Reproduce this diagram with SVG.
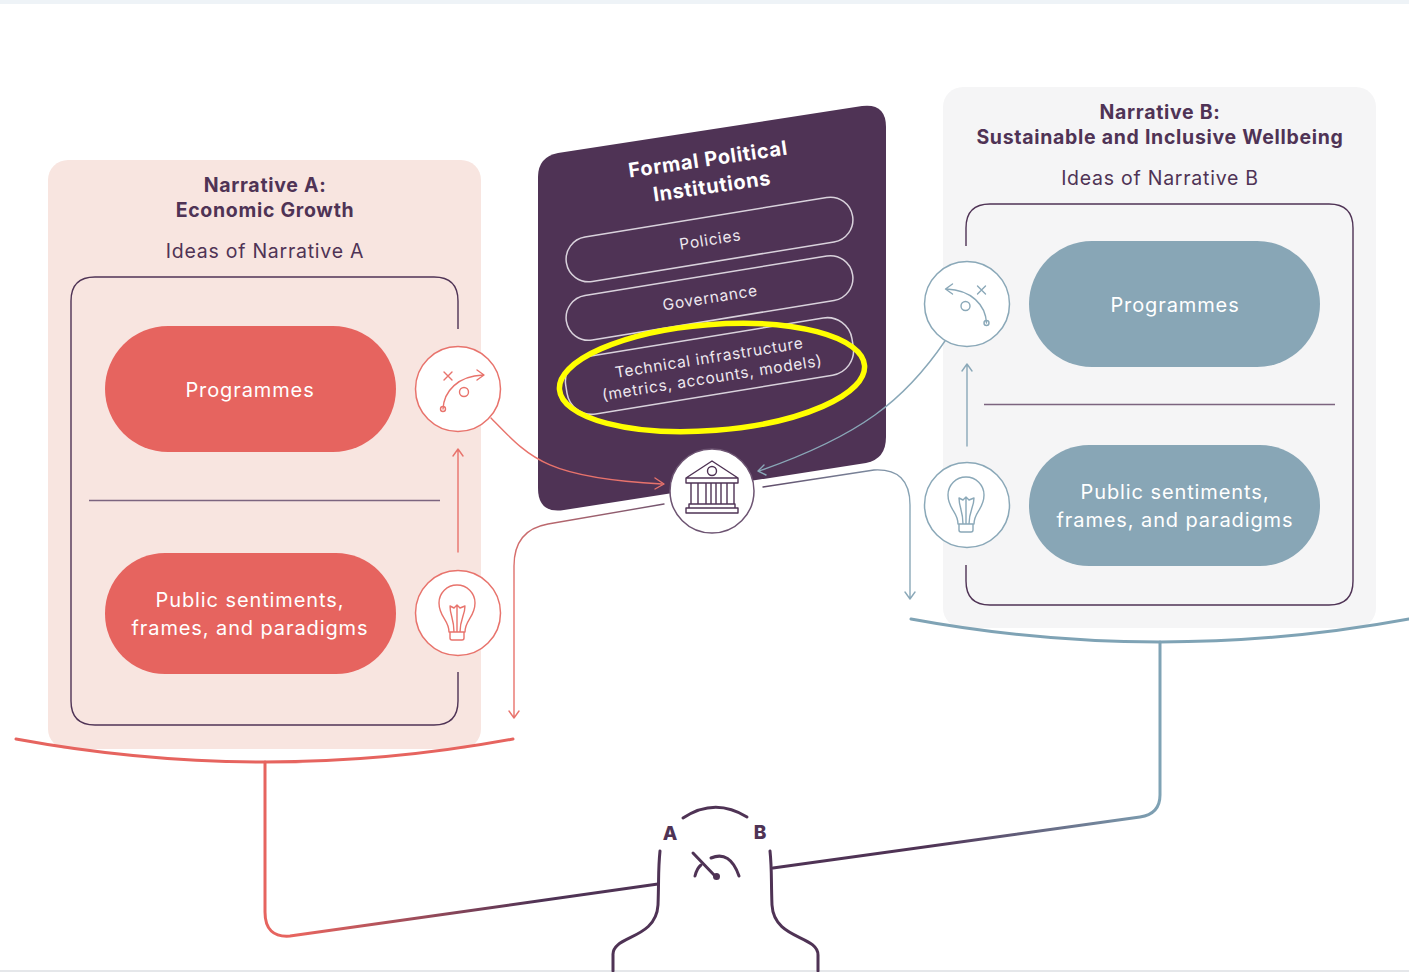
<svg xmlns="http://www.w3.org/2000/svg" width="1409" height="972" viewBox="0 0 1409 972">
<style>
text{font-family:"Inter","Liberation Sans",sans-serif;text-anchor:middle}
.h{font-size:19.5px;font-weight:700;fill:#4f3355;letter-spacing:.7px}
.s{font-size:19.5px;fill:#4f3355;letter-spacing:.75px}
.w{font-size:20px;fill:#fff;letter-spacing:.9px}
.p{font-size:15.5px;fill:#eee8ef;letter-spacing:.7px}
.t{font-size:20px;font-weight:700;fill:#fff;letter-spacing:.7px}
.f{fill:none;stroke-linecap:round;stroke-linejoin:round}
.box{fill:none;stroke:#4f3355;stroke-width:1.4}
.pill{fill:none;stroke:#d9d2dc;stroke-width:1.5}
.r{stroke:#e8736c;stroke-width:1.4}
.b{stroke:#8aa8b8;stroke-width:1.4}
.circ{fill:#fff;stroke-width:1.5}
.g{font-size:19px;font-weight:800;fill:#4f3355}
</style>
<defs>
<linearGradient id="g1" gradientUnits="userSpaceOnUse" x1="300" y1="900" x2="540" y2="900"><stop offset="0" stop-color="#e6645f"/><stop offset="1" stop-color="#4f3355"/></linearGradient>
<linearGradient id="g2" gradientUnits="userSpaceOnUse" x1="1160" y1="800" x2="930" y2="850"><stop offset="0" stop-color="#7fa3b5"/><stop offset="1" stop-color="#4f3355"/></linearGradient>
<linearGradient id="g3" gradientUnits="userSpaceOnUse" x1="514" y1="600" x2="660" y2="510"><stop offset="0" stop-color="#e8736c"/><stop offset="1" stop-color="#75566f"/></linearGradient>
<linearGradient id="g4" gradientUnits="userSpaceOnUse" x1="762" y1="485" x2="910" y2="520"><stop offset="0" stop-color="#5f4a68"/><stop offset="1" stop-color="#8aa8b8"/></linearGradient>
<g id="play-r"><path class="f" d="M-15 20C-14 2 0 -13 25 -14M19 -19L26 -14L19 -9M-14 -17L-6 -9M-6 -17L-14 -9"/><circle cx="-15" cy="20" r="2.500" fill="none"/><circle cx="6" cy="3" r="4.500" fill="none"/></g>
<g id="bulb"><path class="f" d="M-9 23C-9 11 -19 8 -19 -6A18 18 0 0 1 17 -6C17 8 7 11 7 23M-8 23H6V29Q6 31 4 31H-6Q-8 31 -8 29ZM-8 -3L-4 -1L-1 -4L2 -1L7 -3M-8 -3C-8 6 -4 10 -4 23M7 -3C7 6 2 10 2 23M-1 -4V23"/></g>
</defs>
<rect width="1409" height="972" fill="#fff"/>
<rect width="1409" height="4" fill="#eef3f7"/>
<rect y="970" width="1409" height="2" fill="#e5e7ea"/>

<g id="narrative-a">
<rect x="48" y="160" width="433" height="589" rx="20" fill="#f8e5e0"/>
<text class="h" x="265" y="192">Narrative A:</text>
<text class="h" x="265" y="217">Economic Growth</text>
<text class="s" x="265" y="258">Ideas of Narrative A</text>
<path class="box" d="M458 329V301Q458 277 434 277H95Q71 277 71 301V701Q71 725 95 725H434Q458 725 458 701V672"/>
<line x1="89" y1="500.500" x2="440" y2="500.500" stroke="#7c647f" stroke-width="1.4"/>
</g>
<g id="a-programmes"><rect x="105" y="326" width="291" height="126" rx="63" fill="#e6645f"/><text class="w" x="250" y="397">Programmes</text></g>
<g id="a-sentiments"><rect x="105" y="553" width="291" height="121" rx="60" fill="#e6645f"/><text class="w" x="250" y="607">Public sentiments,</text><text class="w" x="250" y="635">frames, and paradigms</text></g>

<g id="narrative-b">
<rect x="943" y="87" width="433" height="541" rx="20" fill="#f5f5f6"/>
<text class="h" x="1160" y="119">Narrative B:</text>
<text class="h" x="1160" y="144">Sustainable and Inclusive Wellbeing</text>
<text class="s" x="1160" y="185">Ideas of Narrative B</text>
<path class="box" d="M966 246V228Q966 204 990 204H1329Q1353 204 1353 228V581Q1353 605 1329 605H990Q966 605 966 581V565"/>
<line x1="984" y1="404.500" x2="1335" y2="404.500" stroke="#7c647f" stroke-width="1.4"/>
</g>
<g id="b-programmes"><rect x="1029" y="241" width="291" height="126" rx="63" fill="#88a6b6"/><text class="w" x="1175" y="312">Programmes</text></g>
<g id="b-sentiments"><rect x="1029" y="445" width="291" height="121" rx="60" fill="#88a6b6"/><text class="w" x="1175" y="499">Public sentiments,</text><text class="w" x="1175" y="527">frames, and paradigms</text></g>

<g id="institutions">
<path d="M538 177Q538 157 558 153L862 106Q886 103 886 127V437Q886 459 866 463L564 510Q538 514 538 488Z" fill="#4f3355"/>
<text class="t" transform="translate(709 166) rotate(-8.300)">Formal Political</text>
<text class="t" transform="translate(713 193) rotate(-8.300)">Institutions</text>
<rect class="pill" x="564.500" y="217" width="290" height="45" rx="22.500" transform="rotate(-9.300 709.500 239.500)"/>
<rect class="pill" x="564.500" y="275.500" width="290" height="45" rx="22.500" transform="rotate(-9.300 709.500 298)"/>
<rect class="pill" x="564.500" y="337" width="290" height="58" rx="25" transform="rotate(-9.300 709.500 366)"/>
<text class="p" transform="translate(711 245) rotate(-9)">Policies</text>
<text class="p" transform="translate(711 303) rotate(-9)">Governance</text>
<text class="p" transform="translate(710 363) rotate(-9)">Technical infrastructure</text>
<text class="p" transform="translate(713 383) rotate(-9)">(metrics, accounts, models)</text>
</g>
<ellipse id="highlight" cx="712" cy="377.500" rx="153" ry="53" transform="rotate(-4.500 712 377.500)" fill="none" stroke="#ffff00" stroke-width="5.500"/>

<g id="connectors" class="f">
<path class="r" d="M491 418C530 458 545 478 662 484"/>
<path class="r" d="M655 478L664 484L655 489"/>
<path class="b" d="M945 341C905 400 860 436 759 471"/>
<path class="b" d="M764 465L758 471L766 475"/>
<path class="f" stroke="url(#g3)" stroke-width="1.400" d="M664 504L548 524Q514 530 514 566V717M509 711L514 718L519 711"/>
<path class="f" stroke="url(#g4)" stroke-width="1.400" d="M763 487L874 470Q910 468 910 505V598M905 592L910 599L915 592"/>
<path class="r" d="M458 552V450M453 456L458 449L463 456"/>
<path class="b" d="M967 446V365M962 371L967 364L972 371"/>
<path stroke="#e6645f" stroke-width="3" d="M16 739Q265 785 513 739"/>
<path stroke="#7fa3b5" stroke-width="3" d="M911 619Q1160 665 1409 619"/>
<path stroke="url(#g1)" stroke-width="3" d="M265 762V912Q265 938 290 936L658 884"/>
<path stroke="url(#g2)" stroke-width="3" d="M1160 642V795Q1160 814 1140 817L773 868"/>
</g>

<g id="icon-a-programmes" class="r"><circle class="circ" cx="458" cy="389" r="42.500"/><use href="#play-r" x="458" y="389"/></g>
<g id="icon-a-ideas" class="r"><circle class="circ" cx="458" cy="613" r="42.500"/><use href="#bulb" x="458" y="609"/></g>
<g id="icon-b-programmes" class="b"><circle class="circ" cx="967" cy="304" r="42.500"/><use href="#play-r" transform="translate(971.500 303) scale(-1 1)"/></g>
<g id="icon-b-ideas" class="b"><circle class="circ" cx="967" cy="505" r="42.500"/><use href="#bulb" x="967" y="501"/></g>
<g id="icon-institution"><circle cx="712" cy="491" r="42" fill="#fff" stroke="#6d5472" stroke-width="1.500"/>
<path class="f" stroke="#4f3355" stroke-width="1.400" d="M686 478L712 461L738 478ZM686 478V483H738V478M691 483V504M698 483V504M706 483V504M711 483V504M716 483V504M721 483V504M727 483V504M734 483V504M689 504H735V508H689ZM686 508H738V513H686Z"/><circle cx="712" cy="471" r="4.500" fill="none" stroke="#4f3355" stroke-width="1.400"/></g>

<g id="gauge">
<g class="f" stroke="#4f3355" stroke-width="3">
<path d="M683 818Q715 797 747 817"/>
<path d="M660 851C658 870 659 880 658 905C656 940 612 935 613 955V971"/>
<path d="M770 851C772 870 771 880 772 905C774 940 818 935 818 955V971"/>
<path d="M695 876Q697 868 701 865M711 858Q730 850 739 876"/>
<path d="M693 853L716 877"/>
</g>
<circle cx="716.500" cy="876.500" r="3.500" fill="#4f3355"/>
<text class="g" x="670" y="840">A</text>
<text class="g" x="760" y="839">B</text>
</g>
</svg>
